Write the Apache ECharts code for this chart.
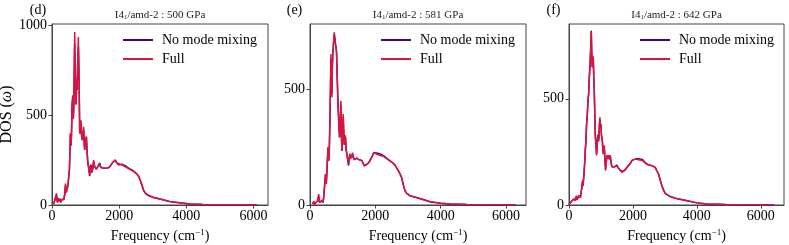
<!DOCTYPE html>
<html>
<head>
<meta charset="utf-8">
<script src="https://cdn.jsdelivr.net/npm/echarts@6/dist/echarts.min.js"></script>
<style>html,body{margin:0;padding:0;background:#fff}#c{width:789px;height:245px}</style>
</head>
<body>
<div id="c"></div>
<script>
// ---------- DATA ----------
const seriesNames = ['No mode mixing', 'Full'];
const panelLabels = ['(d)', '(e)', '(f)'];
const pressures = ['500 GPa', '581 GPa', '642 GPa'];
const xTicks = [0, 2000, 4000, 6000];
const yTicksD = [0, 500, 1000];
const yTicksE = [0, 500];
const yTicksF = [0, 500];

// Panel (d) 500 GPa
const freqD = [50,90,133,160,185,203,230,260,290,320,351,380,401,425,450,475,499,520,549,565,579,600,618,633,648,665,677,695,717,735,747,765,786,805,826,845,865,885,905,925,944,960,974,990,1024,1045,1063,1090,1122,1140,1162,1185,1211,1240,1270,1295,1320,1370,1419,1450,1488,1530,1587,1650,1716,1800,1884,1930,1983,2030,2082,2150,2230,2300,2379,2450,2527,2580,2626,2680,2725,2780,2843,2900,3021,3219,3500,3800,4109,4500,4900,5500,6100];
const fullD = [5,10,65,15,40,20,35,15,30,20,30,60,120,70,60,110,100,200,398,330,380,560,611,480,520,830,963,700,560,700,640,800,935,700,398,440,472,380,361,400,435,340,306,350,380,300,250,210,167,220,225,180,200,250,215,205,200,215,230,210,200,205,198,205,212,235,250,235,222,220,228,215,208,200,193,185,172,160,139,110,83,66,56,50,42,33,20,12,6,3,2,1,0.5];
const noMixD = [5,10,55,15,35,20,35,15,30,20,30,60,110,70,60,110,100,200,398,330,380,560,600,480,560,760,900,720,560,700,640,780,880,720,398,440,450,380,361,400,420,340,306,350,380,300,240,210,160,210,225,180,200,240,215,205,200,215,235,210,200,205,198,205,212,235,250,235,228,226,234,222,212,203,195,186,172,160,139,110,83,66,56,50,42,33,20,12,6,3,2,1,0.5];

// Panel (e) 581 GPa
const freqE = [80,113,140,164,200,240,265,290,316,340,366,395,417,440,468,485,498,520,549,570,590,615,641,656,671,686,701,722,742,762,783,798,813,830,844,860,874,890,905,925,945,960,976,995,1016,1030,1047,1065,1087,1105,1128,1150,1179,1200,1219,1240,1260,1280,1300,1330,1361,1400,1432,1470,1504,1545,1585,1630,1666,1720,1788,1850,1910,1950,1991,2040,2093,2150,2194,2250,2296,2370,2448,2520,2600,2650,2702,2750,2803,2850,2905,2960,3057,3311,3676,4000,4285,4800,5400,6296];
const fullE = [4,15,3,8,5,20,47,10,15,8,20,10,30,70,134,100,91,150,248,190,230,400,651,500,464,600,660,700,744,710,690,680,650,560,500,420,378,330,291,360,449,330,233,300,392,330,260,300,291,240,220,200,177,200,220,200,215,205,226,205,195,200,202,198,195,195,192,178,169,172,180,195,212,225,227,220,212,213,215,210,205,198,190,183,172,160,148,135,119,90,62,50,40,30,14,8,4,2,1,0.3];
const noMixE = [4,15,3,8,5,20,40,10,15,8,20,10,30,70,120,100,91,150,248,190,230,400,630,500,480,600,660,700,735,720,690,680,660,560,500,420,378,330,291,360,430,330,233,300,380,330,260,300,291,240,220,200,170,200,220,200,215,205,220,205,195,200,202,198,195,195,192,178,169,172,180,195,212,225,227,224,218,220,220,213,207,199,190,183,172,160,148,135,119,90,62,50,40,30,14,8,4,2,1,0.3];

// Panel (f) 642 GPa
const freqF = [0,50,93,130,176,200,228,255,280,305,332,355,374,400,426,440,457,470,489,510,530,550,572,590,614,635,655,680,697,712,728,745,759,775,791,805,822,840,864,885,905,920,936,952,968,985,999,1015,1030,1045,1062,1080,1103,1125,1145,1165,1186,1210,1238,1265,1291,1315,1343,1385,1426,1460,1499,1535,1572,1610,1655,1700,1759,1830,1916,1970,2020,2070,2124,2170,2228,2300,2384,2460,2541,2620,2697,2750,2801,2850,2905,2960,3009,3100,3166,3322,3697,4000,4322,4900,5500,6406];
const fullF = [2,8,20,15,30,20,44,25,30,45,44,35,35,80,115,90,95,150,199,260,300,380,421,480,523,600,649,740,814,700,649,660,700,600,540,440,335,290,233,300,330,300,315,380,413,370,380,330,330,300,250,240,280,210,162,200,233,220,233,215,233,200,180,180,180,175,183,175,170,162,154,158,165,180,195,210,217,216,212,213,217,210,197,190,187,183,177,160,146,120,91,70,55,45,40,32,20,10,5,2,1,0.3];
const noMixF = [2,8,20,15,30,20,38,25,30,45,44,35,35,80,115,90,95,150,190,260,300,380,421,480,523,600,649,740,820,720,649,680,690,600,540,440,335,290,240,300,330,300,315,380,400,370,380,330,330,300,250,240,280,210,170,200,233,220,233,215,233,200,180,180,180,175,188,175,170,162,154,158,165,180,195,210,217,216,216,218,222,214,200,190,187,183,177,160,146,120,91,70,55,45,40,32,20,10,5,2,1,0.3];

// ---------- CHART ----------
const FONT = '"Liberation Serif", "Times New Roman", serif';
const AX = '#444';
const colNoMix = '#4b0082';
const colFull = '#dc143c';

const panels = [
  {left: 52, width: 216, xMax: 6433, yMax: 1008, yTicks: yTicksD, freq: freqD, a: noMixD, b: fullD},
  {left: 310, width: 216, xMax: 6611, yMax: 780, yTicks: yTicksE, freq: freqE, a: noMixE, b: fullE},
  {left: 569, width: 215, xMax: 6726, yMax: 852, yTicks: yTicksF, freq: freqF, a: noMixF, b: fullF}
];
const TOP = 24, H = 181;

const pairs = (xs, ys) => xs.map((x, i) => [x, ys[i]]);
const plain = v => String(v);

const option = {
  animation: false,
  backgroundColor: '#fff',
  textStyle: {fontFamily: FONT},
  grid: panels.map(p => ({left: p.left, top: TOP, width: p.width, height: H, show: true, borderColor: AX, borderWidth: 1,
    containLabel: false, outerBoundsMode: 'none'})),
  xAxis: panels.map((p, i) => ({
    type: 'value', gridIndex: i, min: 0, max: p.xMax,
    name: 'Frequency (cm{sup|\u22121})', nameLocation: 'middle', nameGap: 18,
    nameTextStyle: {fontFamily: FONT, fontSize: 14, color: '#000', lineHeight: 16,
      rich: {sup: {fontFamily: FONT, fontSize: 9, verticalAlign: 'top', color: '#000', lineHeight: 10}}},
    axisLine: {show: true, lineStyle: {color: AX, width: 1}},
    axisTick: {show: true, inside: false, length: 3.5, lineStyle: {color: AX}, customValues: xTicks},
    axisLabel: {show: true, margin: 4, fontFamily: FONT, fontSize: 14, color: '#000', customValues: xTicks, formatter: plain},
    splitLine: {show: false}
  })),
  yAxis: panels.map((p, i) => ({
    type: 'value', gridIndex: i, min: 0, max: p.yMax,
    name: i === 0 ? 'DOS ({it|\u03c9})' : '', nameLocation: 'middle', nameGap: 34,
    nameTextStyle: {fontFamily: FONT, fontSize: 16, color: '#000',
      rich: {it: {fontFamily: FONT, fontSize: 16, fontStyle: 'italic', color: '#000'}}},
    axisLine: {show: true, lineStyle: {color: AX, width: 1}},
    axisTick: {show: true, inside: false, length: 3.5, lineStyle: {color: AX}, customValues: p.yTicks},
    axisLabel: {show: true, margin: 5, fontFamily: FONT, fontSize: 14, color: '#000', customValues: p.yTicks, formatter: plain},
    splitLine: {show: false}
  })),
  legend: panels.map((p, i) => ({
    data: seriesNames,
    orient: 'vertical',
    left: [123, 381, 640][i], top: 33, padding: 0,
    itemWidth: 30, itemHeight: 2, itemGap: 5,
    icon: 'rect',
    textStyle: {fontFamily: FONT, fontSize: 14, color: '#000', padding: [0, 0, 0, 4]},
    selectedMode: false
  })),
  graphic: [].concat(
    panels.map((p, i) => ({
      type: 'text', x: p.left + p.width / 2, y: 15.5,
      style: {text: 'I4{sub|1}/amd-2 : ' + pressures[i], font: '11px ' + FONT, fill: '#222',
        textAlign: 'center', textVerticalAlign: 'middle',
        rich: {sub: {font: '7px ' + FONT, fill: '#222', verticalAlign: 'bottom'}}}
    })),
    panels.map((p, i) => ({
      type: 'text', x: [38, 294.5, 553.5][i], y: 10.5,
      style: {text: panelLabels[i], font: '14px ' + FONT, fill: '#000', textAlign: 'center', textVerticalAlign: 'middle'}
    }))
  ),
  series: [].concat(...panels.map((p, i) => [
    {name: seriesNames[0], type: 'line', xAxisIndex: i, yAxisIndex: i, data: pairs(p.freq, p.a),
      showSymbol: false, symbol: 'none', lineStyle: {color: colNoMix, width: 1.5}, itemStyle: {color: colNoMix}},
    {name: seriesNames[1], type: 'line', xAxisIndex: i, yAxisIndex: i, data: pairs(p.freq, p.b),
      showSymbol: false, symbol: 'none', lineStyle: {color: colFull, width: 1.5}, itemStyle: {color: colFull}}
  ]))
};

const chart = echarts.init(document.getElementById('c'), null, {renderer: 'canvas'});
chart.setOption(option);
</script>
</body>
</html>
